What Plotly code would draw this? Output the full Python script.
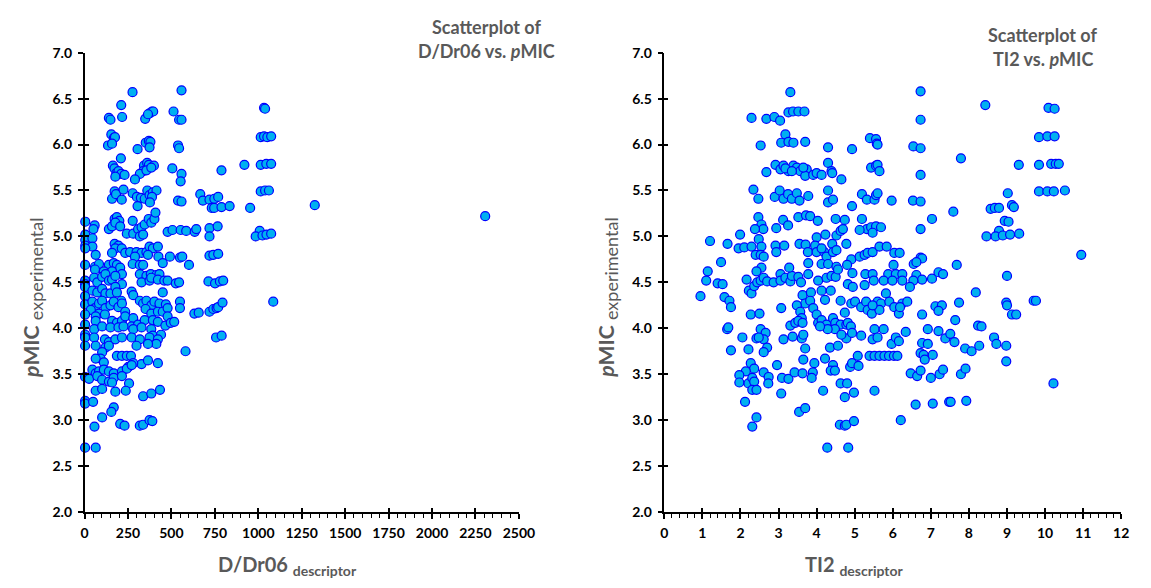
import plotly.graph_objects as go

# ---------------- data ----------------
# Left panel: D/Dr06 descriptor vs pMIC
dr06 = [
    276, 558, 211, 1033, 1039, 140, 149, 216, 349, 374, 388, 395, 365, 512, 544, 558,
    154, 168, 175, 135, 158, 305, 352, 370, 379, 374, 538, 544, 1014, 1033, 1052, 1074,
    209, 163, 172, 183, 195, 211, 230, 177, 342, 360, 370, 399, 337, 318, 290, 356, 384, 505, 558, 553, 788, 920, 1014, 1046, 1074, 1325,
    158, 173, 181, 214, 224, 277, 301, 324, 346, 361, 374, 393, 414, 388, 305, 376, 538, 558, 666, 681, 719, 747, 769, 732, 746, 788, 835, 953, 1014, 1039, 1061,
    4, 58, 51, 140, 158, 173, 186, 200, 177, 205, 277, 243, 280, 308, 328, 346, 369, 384, 402, 408, 318, 337, 478, 506, 553, 585, 634, 643, 719, 719, 766, 1008, 985, 1024, 1047, 1074,
    4, 4, 45, 4, 45, 64, 4, 173, 195, 177, 214, 158, 234, 262, 299, 328, 356, 374, 393, 422, 290, 365, 425, 491, 549, 562, 719, 741, 769, 2306,
    3, 60, 83, 140, 168, 186, 205, 215, 277, 318, 337, 450, 601, 60, 111, 158, 318, 356, 381, 413, 431,
    3, 3, 55, 73, 101, 120, 140, 158, 177, 215, 328, 374, 384, 422, 459, 478, 525, 544, 713, 751, 779, 798,
    3, 3, 45, 73, 101, 120, 149, 177, 186, 271, 280, 450, 211, 318,
    3, 45, 60, 83, 101, 120, 149, 168, 195, 215, 337, 356, 384, 402, 431, 468, 549, 549, 632, 657, 719, 741, 760, 769, 794, 1086, 351, 384, 422, 450, 478, 234, 83, 36,
    3, 3, 64, 64, 117, 158, 186, 215, 234, 280, 271, 308, 346, 393, 422, 465, 478, 496, 516, 55, 101, 149, 195, 224, 280, 328,
    3, 3, 3, 55, 64, 117, 140, 177, 215, 271, 318, 384, 393, 374, 440, 422, 413, 365, 299, 120, 140, 757, 789, 581,
    101, 92, 186, 215, 243, 267, 64, 111, 328, 365, 422, 280, 252,
    3, 45, 64, 83, 111, 140, 168, 215, 243, 271, 26, 73, 101, 140, 168, 215,
    64, 101, 158, 256, 177, 237, 337, 384, 434,
    3, 3, 49, 168, 154, 101, 205, 230, 318, 337, 374, 390, 57, 3, 64,
]
pmic_left = [
    6.57, 6.59, 6.43, 6.40, 6.39, 6.29, 6.27, 6.30, 6.28, 6.34, 6.36, 6.36, 6.33, 6.36, 6.27, 6.27,
    6.11, 6.07, 6.08, 5.99, 6.01, 5.95, 6.02, 6.04, 6.03, 5.97, 5.99, 5.96, 6.08, 6.09, 6.08, 6.09,
    5.85, 5.77, 5.74, 5.69, 5.71, 5.68, 5.67, 5.65, 5.77, 5.80, 5.78, 5.77, 5.71, 5.68, 5.62, 5.72, 5.75, 5.74, 5.68, 5.60, 5.72, 5.78, 5.78, 5.79, 5.79, 5.34,
    5.41, 5.49, 5.46, 5.40, 5.51, 5.47, 5.43, 5.42, 5.41, 5.50, 5.45, 5.48, 5.50, 5.43, 5.33, 5.37, 5.39, 5.38, 5.46, 5.39, 5.40, 5.41, 5.43, 5.31, 5.31, 5.32, 5.33, 5.31, 5.49, 5.50, 5.50,
    5.16, 5.12, 5.08, 5.08, 5.11, 5.19, 5.21, 5.17, 5.15, 5.11, 5.17, 5.03, 5.03, 5.08, 5.10, 5.13, 5.19, 5.15, 5.19, 5.26, 5.00, 5.02, 5.05, 5.07, 5.07, 5.06, 5.05, 5.08, 5.09, 5.00, 5.11, 5.06, 5.00, 5.01, 5.02, 5.03,
    5.02, 4.96, 4.98, 4.90, 4.89, 4.80, 4.87, 4.92, 4.90, 4.87, 4.87, 4.82, 4.82, 4.83, 4.83, 4.82, 4.83, 4.89, 4.87, 4.89, 4.78, 4.80, 4.78, 4.78, 4.77, 4.78, 4.79, 4.80, 4.81, 5.22,
    4.69, 4.67, 4.70, 4.69, 4.71, 4.69, 4.66, 4.59, 4.70, 4.69, 4.69, 4.71, 4.69, 4.64, 4.62, 4.62, 4.59, 4.57, 4.59, 4.58, 4.59,
    4.52, 4.48, 4.55, 4.50, 4.56, 4.59, 4.52, 4.53, 4.57, 4.48, 4.50, 4.52, 4.55, 4.53, 4.52, 4.52, 4.49, 4.50, 4.51, 4.49, 4.51, 4.52,
    4.35, 4.45, 4.41, 4.39, 4.43, 4.38, 4.38, 4.45, 4.39, 4.40, 4.36, 4.39, 4.30, 4.30,
    4.26, 4.29, 4.22, 4.27, 4.30, 4.22, 4.25, 4.29, 4.23, 4.27, 4.27, 4.30, 4.25, 4.29, 4.27, 4.26, 4.29, 4.22, 4.16, 4.17, 4.18, 4.21, 4.22, 4.23, 4.28, 4.29, 4.21, 4.16, 4.18, 4.18, 4.22, 4.18, 4.16, 4.20,
    4.15, 4.04, 4.13, 4.08, 4.15, 4.08, 4.06, 4.08, 4.13, 4.11, 4.02, 4.04, 4.09, 4.09, 4.07, 4.03, 4.13, 4.06, 4.07, 3.99, 4.02, 4.01, 4.01, 4.02, 3.99, 4.01,
    3.93, 3.90, 3.81, 3.90, 3.81, 3.88, 3.85, 3.88, 3.90, 3.90, 3.88, 3.99, 3.92, 3.90, 3.93, 3.88, 3.83, 3.83, 3.81, 3.79, 3.81, 3.90, 3.92, 3.75,
    3.74, 3.67, 3.70, 3.70, 3.70, 3.70, 3.67, 3.63, 3.61, 3.65, 3.62, 3.62, 3.58,
    3.47, 3.55, 3.51, 3.53, 3.55, 3.53, 3.51, 3.53, 3.56, 3.60, 3.45, 3.48, 3.44, 3.42, 3.46, 3.48,
    3.32, 3.34, 3.41, 3.40, 3.31, 3.32, 3.26, 3.29, 3.33,
    3.21, 3.18, 3.20, 3.14, 3.09, 3.03, 2.96, 2.94, 2.94, 2.95, 3.00, 2.99, 2.93, 2.70, 2.70,
]

# Right panel: TI2 descriptor vs pMIC
ti2 = [
    3.31, 3.26, 3.38, 3.52, 3.68, 2.29, 2.68, 2.89, 3.04, 3.18, 3.07, 3.26, 3.39, 3.70, 2.53, 4.30, 4.93, 5.40, 5.56, 5.58, 5.60,
    2.92, 3.05, 3.13, 3.26, 3.39, 3.48, 3.57, 3.74, 3.70, 3.91, 4.00, 4.13, 4.30, 4.39, 4.41, 4.65, 2.68, 3.18, 3.35, 3.65, 5.43, 5.56, 5.60, 5.65,
    2.34, 2.47, 2.90, 3.03, 3.13, 3.25, 3.35, 3.48, 3.55, 3.78, 4.30, 4.30, 4.43, 4.93, 5.19, 5.32, 5.52, 5.56, 5.60, 5.97,
    2.47, 2.55, 2.60, 2.38, 2.48, 1.99, 1.66, 1.20, 3.12, 3.25, 2.94, 3.52, 3.72, 3.83, 4.03, 4.00, 4.23, 4.50, 4.74, 4.52, 4.63, 4.69, 4.78, 5.19, 5.32, 5.43, 5.56, 5.69, 5.47, 5.13,
    1.95, 2.10, 2.29, 2.40, 2.55, 2.53, 2.61, 2.92, 2.94, 3.15, 3.55, 3.71, 3.77, 3.96, 4.00, 4.20, 4.26, 4.13, 4.41, 4.43, 4.52, 4.91, 5.13, 5.26, 5.34, 5.47, 5.65, 5.84, 6.04, 6.18,
    1.49, 1.14, 1.10, 1.40, 1.53, 0.95, 1.58, 1.71, 1.75,
    2.16, 2.22, 2.29, 2.36, 2.44, 2.53, 2.61, 2.55, 2.42, 2.70, 2.87, 3.05, 3.05, 3.18, 3.31, 3.35, 3.52, 3.59, 3.28, 3.78, 3.78,
    4.04, 4.13, 4.30, 4.26, 4.39, 4.52, 4.50, 4.56, 4.80, 4.94, 4.82, 4.95, 4.13, 4.37, 4.63, 4.22, 3.63, 3.70, 3.85, 3.83, 3.91, 4.00, 4.04, 4.13, 4.26, 3.48, 3.57, 3.61, 3.31, 3.44, 3.52, 3.63,
    5.28, 5.47, 5.50, 5.26, 5.88, 6.08, 6.25, 5.76, 5.99, 6.25, 5.82,
    4.91, 5.01, 5.17, 5.30, 5.34, 5.45, 5.60, 5.69, 5.65, 5.91, 6.04, 6.16, 6.25, 6.38, 5.47,
    4.43, 4.49, 4.63, 4.78, 4.82, 4.90, 4.48, 4.29, 4.74, 4.09, 2.27, 2.50, 3.07, 1.65, 1.68,
    2.53, 2.66, 2.61, 2.42, 2.48, 2.05, 1.75, 2.21, 2.70, 2.61,
    3.13, 3.37, 3.61, 3.65, 3.70, 4.35, 4.56, 4.78, 4.65, 4.93, 5.17, 5.47, 5.52, 5.76, 5.60, 5.97, 6.08, 6.16, 6.34,
    5.08, 5.39, 5.52, 5.65, 5.78, 5.90, 6.03, 6.12,
    3.65, 3.94, 4.22, 4.43, 4.37, 4.48, 4.88, 4.93, 5.10, 5.52,
    2.27, 2.36, 2.14, 1.97, 1.97, 2.21, 2.31, 2.36, 2.31, 2.42, 2.61, 2.74, 2.73, 2.96, 3.09, 3.26, 3.42, 3.63, 3.90, 3.87,
    4.63, 4.80, 4.98, 4.74, 4.17, 3.07, 2.12, 3.54, 3.70, 2.42, 2.31, 4.61, 4.74, 4.78, 4.98, 6.21, 4.28, 4.83,
    6.73, 8.43, 10.09, 10.25, 6.73, 6.54, 6.73, 7.79, 9.84, 10.06, 10.25, 6.73, 9.31, 9.84, 10.16, 10.28, 10.36, 6.53, 6.73, 9.84, 10.06, 10.23, 10.52, 9.02,
    7.59, 7.03, 8.57, 8.68, 8.79, 9.13, 9.18, 8.94, 9.04, 8.79, 8.46, 8.70, 8.89, 9.08, 9.32, 6.73, 10.95, 6.73, 6.77, 6.55, 6.62, 7.68, 6.02,
    6.62, 6.77, 6.54, 7.03, 7.20, 7.32, 6.45, 9.00, 8.18, 6.19, 7.12, 7.29, 7.20, 7.74, 8.98, 9.00, 9.70, 9.76, 9.13, 9.24, 6.77, 7.64,
    6.92, 7.20, 7.38, 7.51, 7.62, 8.24, 8.33, 8.66, 8.72, 8.98, 8.98, 7.90, 8.07, 8.27, 6.77, 6.92, 6.73, 6.81, 6.84, 7.05,
    6.47, 6.64, 6.73, 7.00, 7.23, 7.32, 7.79, 7.91, 10.22, 6.60, 7.05, 7.48, 7.52, 7.93,
]
pmic_right = [
    6.57, 6.35, 6.36, 6.36, 6.36, 6.29, 6.28, 6.30, 6.26, 6.11, 6.02, 6.03, 6.02, 6.03, 5.99, 5.97, 5.95, 6.07, 6.06, 6.01, 6.00,
    5.78, 5.73, 5.77, 5.71, 5.77, 5.75, 5.71, 5.73, 5.66, 5.67, 5.69, 5.67, 5.80, 5.71, 5.69, 5.62, 5.70, 5.74, 5.71, 5.75, 5.75, 5.77, 5.78, 5.71,
    5.51, 5.41, 5.43, 5.50, 5.41, 5.46, 5.41, 5.47, 5.39, 5.44, 5.50, 5.37, 5.40, 5.33, 5.46, 5.40, 5.40, 5.45, 5.47, 5.39,
    5.21, 5.13, 5.08, 5.08, 4.97, 5.02, 4.92, 4.95, 5.18, 5.12, 5.09, 5.21, 5.23, 5.22, 5.17, 4.99, 5.02, 5.19, 5.18, 5.01, 5.06, 5.08, 4.92, 5.19, 5.08, 5.10, 5.11, 5.10, 5.04, 5.07,
    4.87, 4.88, 4.89, 4.80, 4.89, 4.80, 4.78, 4.90, 4.83, 4.90, 4.92, 4.91, 4.83, 4.90, 4.83, 4.83, 4.78, 4.87, 4.92, 4.83, 4.85, 4.75, 4.78, 4.80, 4.82, 4.83, 4.89, 4.89, 4.82, 4.82,
    4.72, 4.62, 4.52, 4.49, 4.48, 4.35, 4.34, 4.30, 4.23,
    4.53, 4.41, 4.38, 4.46, 4.50, 4.52, 4.55, 4.66, 4.62, 4.51, 4.50, 4.59, 4.52, 4.55, 4.51, 4.57, 4.56, 4.50, 4.66, 4.59, 4.71,
    4.52, 4.70, 4.70, 4.55, 4.57, 4.67, 4.56, 4.64, 4.69, 4.60, 4.48, 4.45, 4.41, 4.41, 4.30, 4.31, 4.36, 4.27, 4.39, 4.30, 4.22, 4.15, 4.06, 4.09, 4.04, 4.25, 4.18, 4.11, 4.03, 4.06, 4.08, 4.06,
    4.59, 4.59, 4.52, 4.47, 4.59, 4.59, 4.59, 4.52, 4.52, 4.52, 4.38,
    4.27, 4.29, 4.23, 4.29, 4.20, 4.16, 4.29, 4.27, 4.20, 4.29, 4.23, 4.16, 4.27, 4.29, 4.25,
    4.11, 4.06, 4.04, 4.04, 4.06, 4.02, 3.99, 3.99, 4.17, 4.02, 4.15, 4.16, 4.22, 3.99, 4.01,
    3.99, 3.95, 3.88, 3.89, 3.90, 3.90, 3.76, 3.77, 3.79, 3.74,
    3.88, 3.91, 3.89, 3.93, 3.78, 3.79, 3.81, 3.89, 3.93, 3.95, 3.92, 3.88, 3.99, 3.99, 3.90, 3.83, 3.90, 3.86, 3.96,
    3.70, 3.70, 3.70, 3.70, 3.70, 3.70, 3.70, 3.70,
    3.66, 3.62, 3.67, 3.60, 3.54, 3.54, 3.58, 3.62, 3.59, 3.32,
    3.62, 3.56, 3.53, 3.49, 3.41, 3.40, 3.46, 3.42, 3.33, 3.33, 3.52, 3.47, 3.40, 3.60, 3.46, 3.45, 3.52, 3.51, 3.52, 3.46,
    3.40, 3.40, 3.30, 3.25, 3.32, 3.29, 3.20, 3.09, 3.13, 3.03, 2.93, 2.95, 2.94, 2.95, 2.99, 3.00, 2.70, 2.70,
    6.58, 6.43, 6.40, 6.39, 6.27, 5.98, 5.96, 5.85, 6.08, 6.09, 6.09, 5.67, 5.78, 5.78, 5.79, 5.79, 5.79, 5.39, 5.38, 5.49, 5.49, 5.49, 5.50, 5.47,
    5.27, 5.19, 5.30, 5.31, 5.31, 5.34, 5.32, 5.17, 5.16, 5.06, 5.00, 5.00, 5.01, 5.02, 5.03, 5.08, 4.80, 4.77, 4.76, 4.70, 4.72, 4.69, 4.69,
    4.58, 4.53, 4.52, 4.54, 4.61, 4.59, 4.45, 4.57, 4.39, 4.23, 4.24, 4.25, 4.19, 4.28, 4.28, 4.25, 4.30, 4.30, 4.15, 4.15, 4.15, 4.09,
    3.99, 3.97, 3.89, 3.94, 3.85, 4.03, 4.02, 3.90, 3.83, 3.81, 3.64, 3.78, 3.75, 3.81, 3.84, 3.83, 3.73, 3.71, 3.66, 3.71,
    3.51, 3.48, 3.54, 3.46, 3.50, 3.55, 3.50, 3.56, 3.40, 3.17, 3.18, 3.20, 3.20, 3.21,
]

# ---------------- layout helpers ----------------
W, H = 1151, 588
def fx(p):
    return p / W
def fy(p):
    return 1 - p / H

GRAY = "#595959"
FONT = "Lato"
marker = dict(size=9, color="#00B0F0", line=dict(color="#0000FF", width=1.2))

fig = go.Figure()
fig.add_trace(go.Scatter(x=dr06, y=pmic_left, mode="markers", marker=marker,
                         xaxis="x", yaxis="y", cliponaxis=False, showlegend=False))
fig.add_trace(go.Scatter(x=ti2, y=pmic_right, mode="markers", marker=marker,
                         xaxis="x2", yaxis="y2", cliponaxis=False, showlegend=False))
# empty traces so the overlay (crossing-tick) axes are drawn
fig.add_trace(go.Scatter(x=[], y=[], xaxis="x3", yaxis="y3", showlegend=False))
fig.add_trace(go.Scatter(x=[], y=[], xaxis="x4", yaxis="y4", showlegend=False))

tickfont = dict(family=FONT, size=14, color="black", weight="bold")
ydom = [fy(518), fy(45)]
xdomL = [fx(82), fx(524)]
xdomR = [fx(672), fx(1137)]

def xax(dom, rng, dt, mdt, anchor):
    return dict(domain=dom, range=rng, dtick=dt, tick0=0, anchor=anchor,
                showline=True, linecolor="black", linewidth=1.5,
                ticks="outside", ticklen=5, tickwidth=1.5, tickcolor="black",
                minor=dict(dtick=mdt, ticks="outside", ticklen=4, tickwidth=1, tickcolor="black"),
                showgrid=False, zeroline=False, tickfont=tickfont, ticklabelstandoff=2,
                fixedrange=True)

def yax(anchor):
    return dict(domain=ydom, range=[2, 7], dtick=0.5, tick0=2, tickformat=".1f", anchor=anchor,
                showline=True, linecolor="black", linewidth=1.5,
                ticks="outside", ticklen=5, tickwidth=1.5, tickcolor="black",
                showgrid=False, zeroline=False, tickfont=tickfont, ticklabelstandoff=3,
                fixedrange=True)

def xover(base, rng, dt, anchor):
    return dict(overlaying=base, range=rng, dtick=dt, tick0=0, anchor=anchor,
                showline=False, ticks="inside", ticklen=4, tickwidth=1.5, tickcolor="black",
                showticklabels=False, showgrid=False, zeroline=False, fixedrange=True)

def yover(base, anchor):
    return dict(overlaying=base, range=[2, 7], dtick=0.5, tick0=2, anchor=anchor,
                showline=False, ticks="inside", ticklen=4, tickwidth=1.5, tickcolor="black",
                showticklabels=False, showgrid=False, zeroline=False, fixedrange=True)

fig.update_layout(
    width=W, height=H,
    margin=dict(l=0, r=0, t=0, b=0),
    paper_bgcolor="white", plot_bgcolor="white",
    xaxis=xax(xdomL, [0, 2500], 250, 50, "y"),
    yaxis=yax("x"),
    xaxis2=xax(xdomR, [0, 12], 1, 0.2, "y2"),
    yaxis2=yax("x2"),
    xaxis3=xover("x", [0, 2500], 250, "y3"),
    yaxis3=yover("y", "x3"),
    xaxis4=xover("x2", [0, 12], 1, "y4"),
    yaxis4=yover("y2", "x4"),
)

ann = []
def add(text, x, y, size, angle=0, weight="bold"):
    ann.append(dict(text=text, x=fx(x), y=fy(y), xref="paper", yref="paper",
                    xanchor="center", yanchor="middle", showarrow=False, textangle=angle,
                    font=dict(family=FONT, size=size, color=GRAY, weight=weight)))

# panel titles
add("Scatterplot of", 491, 19, 18)
add("D/Dr06 vs. <i>p</i>MIC", 491, 43, 18)
add("Scatterplot of", 1057, 27, 18)
add("TI2 vs. <i>p</i>MIC", 1057, 51, 18)
# x-axis titles
add("D/Dr06 <sub>descriptor</sub>", 289, 573, 20)
add("TI2 <sub>descriptor</sub>", 866, 573, 20)
# y-axis titles
ytitle = "<b><i>p</i>MIC</b> <sub><span style='font-size:18px'>experimental</span></sub>"
add(ytitle, 29, 297, 21, angle=-90, weight="normal")
add(ytitle, 614, 297, 21, angle=-90, weight="normal")

fig.update_layout(annotations=ann)
fig.write_html("out.html")
